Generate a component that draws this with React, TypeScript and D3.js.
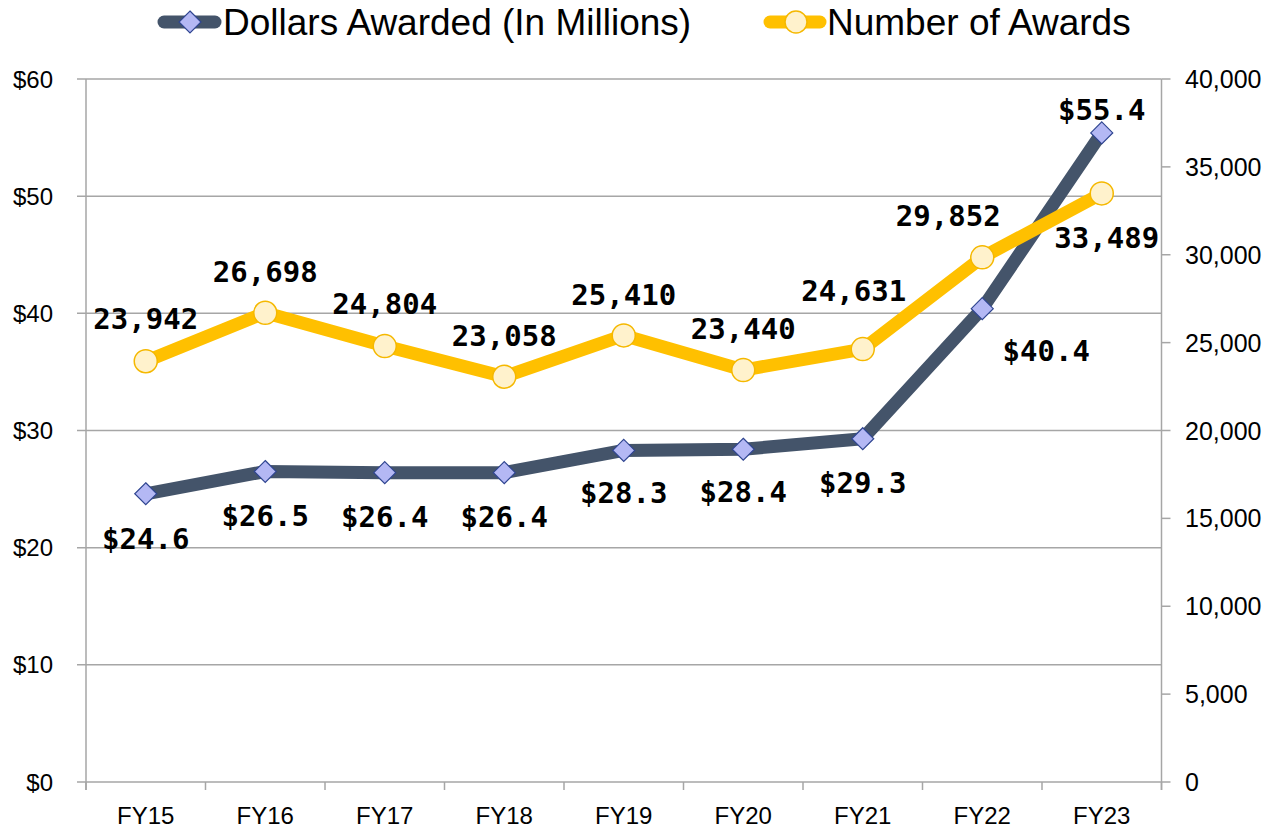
import React, { useEffect } from 'react';
import * as d3 from 'd3';

const fiscalYears = ['FY15', 'FY16', 'FY17', 'FY18', 'FY19', 'FY20', 'FY21', 'FY22', 'FY23'];
const dollarsAwarded = [24.6, 26.5, 26.4, 26.4, 28.3, 28.4, 29.3, 40.4, 55.4];
const numberOfAwards = [23942, 26698, 24804, 23058, 25410, 23440, 24631, 29852, 33489];
const dollarTicks = [0, 10, 20, 30, 40, 50, 60];
const awardTicks = [0, 5000, 10000, 15000, 20000, 25000, 30000, 35000, 40000];

// label nudges (dx, dy) from each point, as placed in the original
const dollarLabelShift = [[0, 45], [0, 44], [0, 44], [0, 44], [0, 43], [0, 43], [0, 44], [64, 42], [0, -23]];
const awardLabelShift = [[0, -42], [0, -41], [0, -42], [0, -41], [0, -40], [0, -41], [-9, -58], [-34, -41], [5, 45]];

const W = 1269;
const H = 830;
const left = 86;
const right = 1161.5;
const top = 79;
const bottom = 782;

const navy = '#44546A';
const gold = '#FFC000';
const gridColor = '#A6A6A6';
const axisFont = '"Liberation Sans", Arial, sans-serif';
const labelFont = '"DejaVu Sans Mono", monospace';

const Diamond = ({ x, y, r = 11 }: { x: number; y: number; r?: number }) => (
  <path
    d={`M${x},${y - r}L${x + r},${y}L${x},${y + r}L${x - r},${y}Z`}
    fill="#B4B8F4"
    stroke="#2F4590"
    strokeWidth={1.2}
  />
);

const Ring = ({ x, y, r = 11.5 }: { x: number; y: number; r?: number }) => (
  <circle cx={x} cy={y} r={r} fill="#FFF2CC" stroke="#F5B800" strokeWidth={1.5} />
);

export default function App() {
  useEffect(() => {
    document.body.style.margin = '0';
  }, []);

  const x = d3.scaleBand<string>().domain(fiscalYears).range([left, right]).padding(0);
  const yL = d3.scaleLinear().domain([0, 60]).range([bottom, top]);
  const yR = d3.scaleLinear().domain([0, 40000]).range([bottom, top]);
  const cx = (i: number) => (x(fiscalYears[i]) as number) + x.bandwidth() / 2;

  const dollarLine = d3.line<number>().x((_, i) => cx(i)).y(d => yL(d));
  const awardLine = d3.line<number>().x((_, i) => cx(i)).y(d => yR(d));
  const fmtComma = d3.format(',');

  const boundaries = fiscalYears.map(f => x(f) as number).concat([right]);

  return (
    <svg width={W} height={H} style={{ display: 'block', background: '#fff' }}>
      {/* gridlines + left ticks */}
      {dollarTicks.map(t => (
        <g key={'gl' + t}>
          <line x1={left - 9} x2={right} y1={yL(t)} y2={yL(t)} stroke={gridColor} strokeWidth={1.5} />
          <text
            x={53}
            y={yL(t)}
            textAnchor="end"
            dominantBaseline="central"
            fontFamily={axisFont}
            fontSize={24}
            fill="#000"
          >
            ${t}
          </text>
        </g>
      ))}
      {/* right axis */}
      {awardTicks.map(t => (
        <g key={'gr' + t}>
          <line x1={right} x2={right + 9} y1={yR(t)} y2={yR(t)} stroke={gridColor} strokeWidth={1.5} />
          <text
            x={1185}
            y={yR(t)}
            dominantBaseline="central"
            fontFamily={axisFont}
            fontSize={25}
            fill="#000"
          >
            {fmtComma(t)}
          </text>
        </g>
      ))}
      <line x1={left} x2={left} y1={top} y2={bottom + 8} stroke={gridColor} strokeWidth={1.5} />
      <line x1={right} x2={right} y1={top} y2={bottom + 8} stroke={gridColor} strokeWidth={1.5} />
      {/* category ticks */}
      {boundaries.map((b, i) => (
        <line key={'ct' + i} x1={b} x2={b} y1={bottom} y2={bottom + 8} stroke={gridColor} strokeWidth={1.5} />
      ))}
      {fiscalYears.map((f, i) => (
        <text
          key={f}
          x={cx(i)}
          y={824}
          textAnchor="middle"
          fontFamily={axisFont}
          fontSize={24}
          fill="#000"
        >
          {f}
        </text>
      ))}

      {/* dollars series */}
      <path d={dollarLine(dollarsAwarded) as string} fill="none" stroke={navy} strokeWidth={13} strokeLinejoin="round" />
      {dollarsAwarded.map((d, i) => (
        <Diamond key={'dm' + i} x={cx(i)} y={yL(d)} />
      ))}

      {/* awards series */}
      <path d={awardLine(numberOfAwards) as string} fill="none" stroke={gold} strokeWidth={13} strokeLinejoin="round" />
      {numberOfAwards.map((d, i) => (
        <Ring key={'am' + i} x={cx(i)} y={yR(d)} />
      ))}

      {/* data labels */}
      {dollarsAwarded.map((d, i) => (
        <text
          key={'dl' + i}
          x={cx(i) + dollarLabelShift[i][0]}
          y={yL(d) + dollarLabelShift[i][1]}
          textAnchor="middle"
          dominantBaseline="central"
          fontFamily={labelFont}
          fontWeight="bold"
          fontSize={29}
          fill="#000"
        >
          ${d.toFixed(1)}
        </text>
      ))}
      {numberOfAwards.map((d, i) => (
        <text
          key={'al' + i}
          x={cx(i) + awardLabelShift[i][0]}
          y={yR(d) + awardLabelShift[i][1]}
          textAnchor="middle"
          dominantBaseline="central"
          fontFamily={labelFont}
          fontWeight="bold"
          fontSize={29}
          fill="#000"
        >
          {fmtComma(d)}
        </text>
      ))}

      {/* legend */}
      <g fontFamily={axisFont} fontSize={37} fill="#000">
        <line x1={164} x2={215} y1={22} y2={22} stroke={navy} strokeWidth={13} strokeLinecap="round" />
        <Diamond x={190} y={22} />
        <text x={223} y={22} dominantBaseline="central">Dollars Awarded (In Millions)</text>
        <line x1={770} x2={820} y1={22} y2={22} stroke={gold} strokeWidth={13} strokeLinecap="round" />
        <Ring x={796} y={22} r={11} />
        <text x={827} y={22} dominantBaseline="central">Number of Awards</text>
      </g>
    </svg>
  );
}
